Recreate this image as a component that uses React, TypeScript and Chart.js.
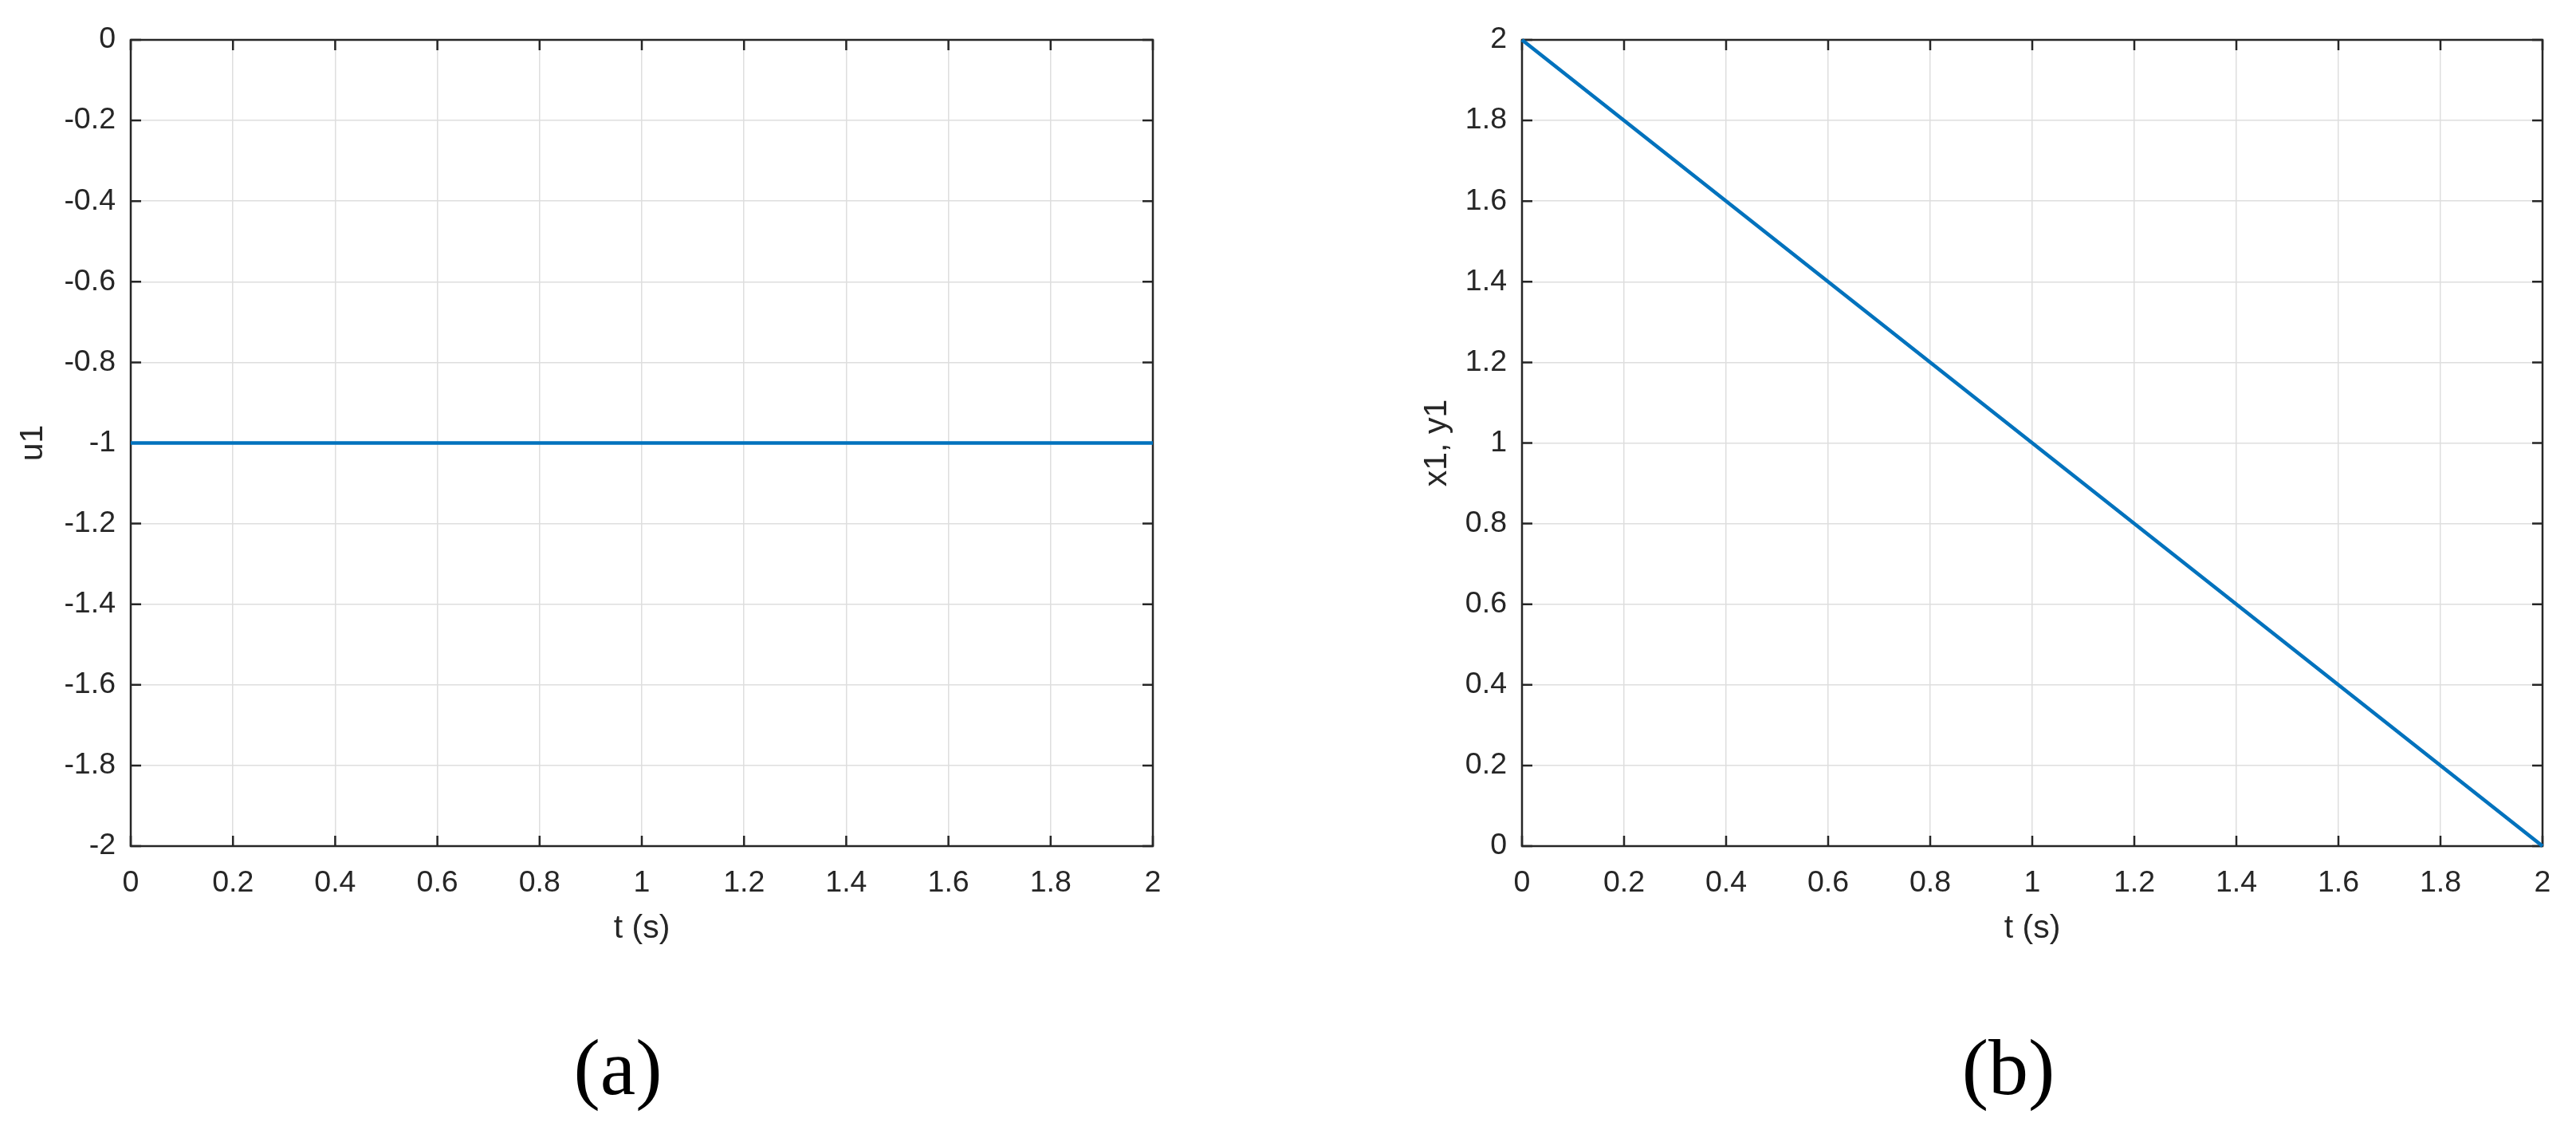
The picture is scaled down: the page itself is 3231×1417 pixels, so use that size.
import React, { useEffect, useRef } from "react";
import { Chart, registerables } from "chart.js";

Chart.register(...registerables);

// ---- data ----
const timeS = [0, 2];
const u1Values = [-1, -1];
const x1y1Values = [2, 0];
const xTickMin = 0;
const xTickMax = 2;
const tickStep = 0.2;
const panelATitles = { x: "t (s)", y: "u1", caption: "(a)" };
const panelBTitles = { x: "t (s)", y: "x1, y1", caption: "(b)" };
const panelAYRange = [-2, 0];
const panelBYRange = [0, 2];

const TEXT = "#262626";
const LINE = "#0072BD";
const GRID = "#dedede";

const fmt = (v: number) => {
  const r = Math.round(v * 10) / 10;
  return (Object.is(r, -0) ? 0 : r).toString();
};

const framePlugin = {
  id: "matlabFrame",
  beforeDatasetsDraw(chart: any) {
    const { ctx, chartArea } = chart;
    const { left, right, top, bottom } = chartArea;
    const xs = chart.scales.x;
    const ys = chart.scales.y;
    const tl = 13;
    ctx.save();
    ctx.strokeStyle = TEXT;
    ctx.lineWidth = 2.5;
    ctx.beginPath();
    xs.ticks.forEach((t: any) => {
      const px = xs.getPixelForValue(t.value);
      ctx.moveTo(px, bottom);
      ctx.lineTo(px, bottom - tl);
      ctx.moveTo(px, top);
      ctx.lineTo(px, top + tl);
    });
    ys.ticks.forEach((t: any) => {
      const py = ys.getPixelForValue(t.value);
      ctx.moveTo(left, py);
      ctx.lineTo(left + tl, py);
      ctx.moveTo(right, py);
      ctx.lineTo(right - tl, py);
    });
    ctx.stroke();
    ctx.lineWidth = 2.5;
    ctx.strokeRect(left, top, right - left, bottom - top);
    ctx.restore();
  },
};

function Panel(props: {
  left: number;
  width: number;
  height: number;
  yWidth: number;
  rightPad: number;
  yData: number[];
  yRange: number[];
  titles: { x: string; y: string };
}) {
  const ref = useRef<HTMLCanvasElement>(null);
  useEffect(() => {
    if (!ref.current) return;
    const chart = new Chart(ref.current, {
      type: "line",
      data: {
        datasets: [
          {
            data: timeS.map((t, i) => ({ x: t, y: props.yData[i] })),
            borderColor: LINE,
            borderWidth: 4.7,
            pointRadius: 0,
            fill: false,
            tension: 0,
            clip: false as any,
          },
        ],
      },
      options: {
        responsive: false,
        animation: false,
        layout: { padding: { top: 50, right: props.rightPad, left: 0, bottom: 0 } },
        plugins: { legend: { display: false }, tooltip: { enabled: false } },
        scales: {
          x: {
            type: "linear",
            min: xTickMin,
            max: xTickMax,
            afterFit: (s: any) => {
              s.height = 189;
            },
            ticks: {
              stepSize: tickStep,
              autoSkip: false,
              maxRotation: 0,
              padding: 24,
              color: TEXT,
              font: { family: "Liberation Sans", size: 37.5 },
              callback: (v: any) => fmt(Number(v)),
            },
            grid: { color: GRID, lineWidth: 1.5, drawTicks: false },
            border: { display: false },
            title: {
              display: true,
              text: props.titles.x,
              color: TEXT,
              font: { family: "Liberation Sans", size: 41 },
              padding: { top: 0, bottom: 61 },
            },
          },
          y: {
            type: "linear",
            min: props.yRange[0],
            max: props.yRange[1],
            afterFit: (s: any) => {
              s.width = props.yWidth;
            },
            ticks: {
              stepSize: tickStep,
              autoSkip: false,
              padding: 19,
              color: TEXT,
              font: { family: "Liberation Sans", size: 37.5 },
              callback: (v: any) => fmt(Number(v)),
            },
            grid: { color: GRID, lineWidth: 1.5, drawTicks: false },
            border: { display: false },
            title: {
              display: true,
              text: props.titles.y,
              color: TEXT,
              font: { family: "Liberation Sans", size: 41 },
              padding: { top: 17, bottom: 0 },
            },
          },
        },
      },
      plugins: [framePlugin],
    });
    return () => chart.destroy();
  }, []);
  return (
    <canvas
      ref={ref}
      width={props.width}
      height={props.height}
      style={{ position: "absolute", left: props.left, top: 0, width: props.width, height: props.height }}
    />
  );
}

const captionStyle = (cx: number): React.CSSProperties => ({
  position: "absolute",
  left: cx - 150,
  width: 300,
  top: 1289,
  textAlign: "center",
  fontFamily: "'Liberation Serif', 'Times New Roman', serif",
  fontSize: 100,
  lineHeight: 1,
  color: "#000",
});

export default function App() {
  return (
    <div
      style={{
        position: "absolute",
        left: 0,
        top: 0,
        width: 3231,
        height: 1417,
        background: "#fff",
        overflow: "hidden",
      }}
    >
      <Panel
        left={0}
        width={1761}
        height={1250}
        yWidth={164}
        rightPad={1761 - 1446}
        yData={u1Values}
        yRange={panelAYRange}
        titles={panelATitles}
      />
      <Panel
        left={1761}
        width={3231 - 1761}
        height={1250}
        yWidth={148}
        rightPad={3231 - 3189}
        yData={x1y1Values}
        yRange={panelBYRange}
        titles={panelBTitles}
      />
      <div style={captionStyle(775)}>{panelATitles.caption}</div>
      <div style={captionStyle(2519)}>{panelBTitles.caption}</div>
    </div>
  );
}
